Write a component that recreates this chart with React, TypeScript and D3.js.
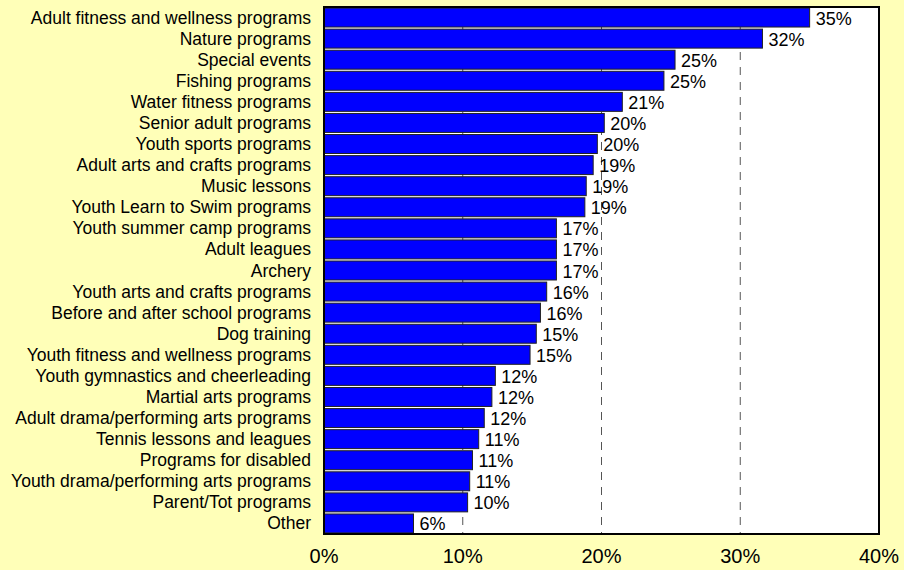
import React from "react";
import * as d3 from "d3";

const categories = [
  "Adult fitness and wellness programs",
  "Nature programs",
  "Special events",
  "Fishing programs",
  "Water fitness programs",
  "Senior adult programs",
  "Youth sports programs",
  "Adult arts and crafts programs",
  "Music lessons",
  "Youth Learn to Swim programs",
  "Youth summer camp programs",
  "Adult leagues",
  "Archery",
  "Youth arts and crafts programs",
  "Before and after school programs",
  "Dog training",
  "Youth fitness and wellness programs",
  "Youth gymnastics and cheerleading",
  "Martial arts programs",
  "Adult drama/performing arts programs",
  "Tennis lessons and leagues",
  "Programs for disabled",
  "Youth drama/performing arts programs",
  "Parent/Tot programs",
  "Other",
];

const values = [
  35.0, 31.6, 25.3, 24.5, 21.5, 20.2, 19.7, 19.4, 18.9, 18.8, 16.75, 16.75,
  16.75, 16.05, 15.6, 15.3, 14.85, 12.35, 12.1, 11.55, 11.15, 10.7, 10.5,
  10.35, 6.45,
];

const valueLabels = [
  "35%", "32%", "25%", "25%", "21%", "20%", "20%", "19%", "19%", "19%",
  "17%", "17%", "17%", "16%", "16%", "15%", "15%", "12%", "12%", "12%",
  "11%", "11%", "11%", "10%", "6%",
];

const tickValues = [0, 10, 20, 30, 40];
const gridValues = [10, 20, 30];

const W = 904;
const H = 570;
const FONT = "Arial, 'Liberation Sans', Helvetica, sans-serif";

export default function App() {
  const left = 324;
  const right = 879;
  const top = 7;
  const bottom = 534;

  const x = d3.scaleLinear().domain([0, 40]).range([left, right]);
  const y = d3
    .scaleBand<string>()
    .domain(categories)
    .range([top, bottom])
    .paddingInner(0.1)
    .paddingOuter(0.05);

  return (
    <svg
      width={W}
      height={H}
      style={{ position: "absolute", left: 0, top: 0, display: "block" }}
      fontFamily={FONT}
    >
      <rect x={0} y={0} width={W} height={H} fill="#FFFFB8" />
      <rect x={left} y={top} width={right - left} height={bottom - top} fill="#FFFFFF" />
      {gridValues.map((g) => (
        <line
          key={g}
          x1={x(g)}
          x2={x(g)}
          y1={top}
          y2={bottom}
          stroke="#555"
          strokeWidth={1}
          strokeDasharray="8,7"
        />
      ))}
      {categories.map((c, i) => (
        <rect
          key={c}
          x={x(0)}
          y={y(c)!}
          width={x(values[i]) - x(0)}
          height={y.bandwidth()}
          fill="#0000FF"
          stroke="#222"
          strokeWidth={1}
        />
      ))}
      {categories.map((c, i) => (
        <text
          key={"v" + c}
          x={x(values[i]) + 6}
          y={y(c)! + y.bandwidth() / 2 + 1}
          dominantBaseline="central"
          fontSize={18}
          fill="#000"
        >
          {valueLabels[i]}
        </text>
      ))}
      {categories.map((c) => (
        <text
          key={"c" + c}
          x={311}
          y={y(c)! + y.bandwidth() / 2}
          dominantBaseline="central"
          textAnchor="end"
          fontSize={17.5}
          fill="#000"
        >
          {c}
        </text>
      ))}
      <rect
        x={left}
        y={top}
        width={right - left}
        height={bottom - top}
        fill="none"
        stroke="#000"
        strokeWidth={2}
      />
      {tickValues.map((t) => (
        <text
          key={"t" + t}
          x={x(t)}
          y={563}
          textAnchor="middle"
          fontSize={20}
          fill="#000"
        >
          {t + "%"}
        </text>
      ))}
    </svg>
  );
}
